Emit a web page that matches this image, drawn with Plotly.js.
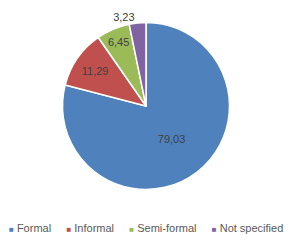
<!DOCTYPE html>
<html><head><meta charset="utf-8">
<script src="https://cdn.plot.ly/plotly-3.0.1.min.js"></script>
<style>html,body{margin:0;padding:0;background:#fff}#c{width:292px;height:247px}</style>
</head><body><div id="c"></div>
<script>
const categories = ["Formal", "Informal", "Semi-formal", "Not specified"];
const values = [79.03, 11.29, 6.45, 3.23];
const colors = ["#4F81BD", "#C0504D", "#9BBB59", "#8064A2"];
const textPositions = ["inside", "inside", "inside", "outside"];

const legendText = categories.map((c, i) =>
  `<span style="color:${colors[i]};font-size:8px">■</span> ${c}`
).join("&nbsp;&nbsp;&nbsp;&nbsp;&nbsp;");

const trace = {
  type: "pie",
  labels: categories,
  values: values,
  sort: false,
  direction: "clockwise",
  rotation: 0,
  marker: {colors: colors, line: {color: "#ffffff", width: 1.5}},
  texttemplate: "%{value:.2f}",
  textposition: textPositions,
  insidetextorientation: "horizontal",
  textfont: {family: "Liberation Sans, Arial, sans-serif", size: 11, color: "#404040"},
  outsidetextfont: {family: "Liberation Sans, Arial, sans-serif", size: 11, color: "#404040"},
  hoverinfo: "none",
  domain: {x: [0, 1], y: [0.233, 0.909]}
};

const layout = {
  width: 292, height: 247,
  margin: {l: 0, r: 0, t: 0, b: 0},
  showlegend: false,
  separators: ",.",
  paper_bgcolor: "#ffffff",
  font: {family: "Liberation Sans, Arial, sans-serif", size: 11, color: "#595959"},
  annotations: [{
    text: legendText, showarrow: false,
    xref: "paper", yref: "paper", x: 0.5, y: 0.077,
    xanchor: "center", yanchor: "middle",
    font: {family: "Liberation Sans, Arial, sans-serif", size: 11, color: "#595959"}
  }]
};

Plotly.newPlot("c", [trace], layout, {staticPlot: true, displayModeBar: false});
</script></body></html>
